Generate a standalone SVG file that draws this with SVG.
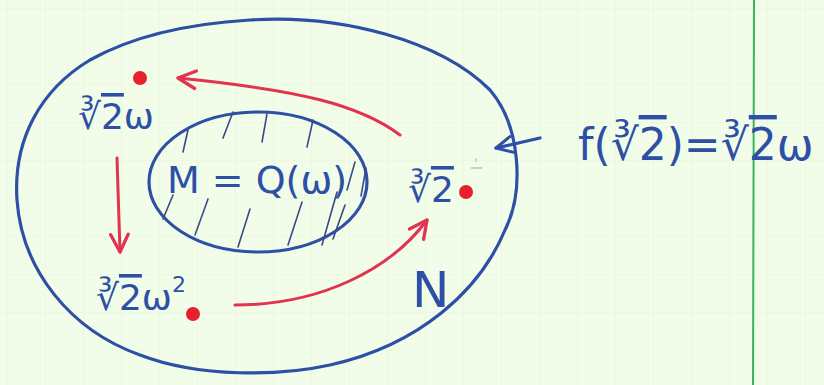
<svg xmlns="http://www.w3.org/2000/svg" width="824" height="385" viewBox="0 0 824 385">
<defs>
<pattern id="grid" x="7" y="8" width="38" height="38" patternUnits="userSpaceOnUse">
<path d="M0,0 H38 M0,0 V38" fill="none" stroke="#e6f5dc" stroke-width="1.2"/>
</pattern>
<marker id="headRed" viewBox="0 0 20 20" refX="18" refY="10" markerWidth="22" markerHeight="22" markerUnits="userSpaceOnUse" orient="auto">
<path d="M2,2 L18,10 L2,18" fill="none" stroke="#e23350" stroke-width="3" stroke-linecap="round" stroke-linejoin="round"/>
</marker>
<marker id="headBlue" viewBox="0 0 20 20" refX="18" refY="10" markerWidth="20" markerHeight="20" markerUnits="userSpaceOnUse" orient="auto">
<path d="M2,2 L18,10 L2,18" fill="none" stroke="#2d4fa6" stroke-width="3" stroke-linecap="round" stroke-linejoin="round"/>
</marker>
</defs>
<style>
.blue{fill:none;stroke:#2d4fa6;stroke-width:3.2;stroke-linecap:round;stroke-linejoin:round}
.hatch{fill:none;stroke:#3a4a86;stroke-width:1.6;stroke-linecap:round}
.red{fill:none;stroke:#e23350;stroke-width:3;stroke-linecap:round}
.dot{fill:#e8202e}
.lbl{font-family:"DejaVu Sans","Liberation Sans",sans-serif;fill:#2d4fa6}
</style>
<rect width="824" height="385" fill="#f1fde9"/>
<rect width="824" height="385" fill="url(#grid)"/>
<line x1="754" y1="0" x2="753" y2="385" stroke="#3db45a" stroke-width="2"/>

<g id="node-N">
<path class="blue" d="M250,20 C340,14 440,40 490,90 C520,125 525,190 505,230 C480,290 420,345 330,365 C280,376 200,378 140,355 C70,330 22,270 17,200 C13,140 40,90 90,60 C140,32 200,23 250,20 Z"/>
<text class="lbl" x="412" y="307" font-size="50">N</text>
</g>

<g id="node-M">
<ellipse class="blue" cx="258" cy="182" rx="109" ry="70"/>
<path class="hatch" d="M183,152 L188,130 M223,138 L233,112 M262,142 L267,114 M307,147 L313,120 M163,219 L173,195 M195,235 L208,199 M238,247 L250,209 M288,245 L302,202 M322,245 L337,192 M333,239 L345,205 M347,190 L355,162 M361,196 L366,168"/>
<text class="lbl" x="257" y="193" font-size="38" text-anchor="middle">M = Q(ω)</text>
</g>

<g id="node-root-w">
<circle class="dot" cx="140" cy="78" r="7"/>
<text class="lbl" x="78" y="129" font-size="36">∛<tspan text-decoration="overline">2</tspan>ω</text>
</g>

<g id="node-root-w2">
<circle class="dot" cx="193" cy="314" r="7"/>
<text class="lbl" x="96" y="310" font-size="36">∛<tspan text-decoration="overline">2</tspan>ω<tspan font-size="22" dy="-18">2</tspan></text>
</g>

<g id="node-root-1">
<circle class="dot" cx="466" cy="192" r="7"/>
<text class="lbl" x="408" y="202" font-size="36">∛<tspan text-decoration="overline">2</tspan></text>
<path d="M476,158 L476,162 M471,168 L482,168" stroke="#b8c2b0" stroke-width="1.3" fill="none"/>
</g>

<g id="node-f">
<text class="lbl" x="578" y="160" font-size="44">f(∛<tspan text-decoration="overline">2</tspan>)=∛<tspan text-decoration="overline">2</tspan>ω</text>
</g>

<g id="connectors">
<path class="red" d="M400,135 C360,105 300,90 178,78" marker-end="url(#headRed)"/>
<path class="red" d="M117,158 C118,190 119,220 120,252" marker-end="url(#headRed)"/>
<path class="red" d="M235,305 C320,305 390,270 427,220" marker-end="url(#headRed)"/>
<path class="blue" d="M540,138 L496,148" marker-end="url(#headBlue)"/>
</g>
</svg>
